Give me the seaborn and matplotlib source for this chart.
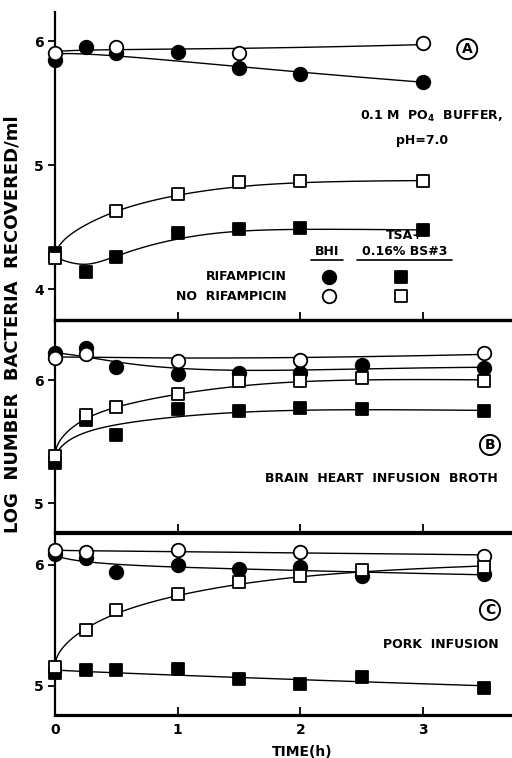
import numpy as np
import pandas as pd
import matplotlib
matplotlib.use("Agg")
import matplotlib.pyplot as plt
import seaborn as sns

# ---------------- data ----------------
# Panel A: 0.1 M PO4 buffer
a_t_bhi_rif = [0, 0.25, 0.5, 1, 1.5, 2, 3]
a_y_bhi_rif = [5.85, 5.955, 5.90, 5.915, 5.78, 5.73, 5.67]
a_t_bhi_norif = [0, 0.5, 1.5, 3]
a_y_bhi_norif = [5.905, 5.955, 5.90, 5.985]
a_t_tsa_rif = [0, 0.25, 0.5, 1, 1.5, 2, 3]
a_y_tsa_rif = [4.29, 4.14, 4.26, 4.455, 4.48, 4.49, 4.475]
a_t_tsa_norif = [0, 0.5, 1, 1.5, 2, 3]
a_y_tsa_norif = [4.25, 4.63, 4.77, 4.86, 4.87, 4.87]

# Panel B: brain heart infusion broth
b_t_bhi_rif = [0, 0.25, 0.5, 1, 1.5, 2, 2.5, 3.5]
b_y_bhi_rif = [6.216, 6.257, 6.108, 6.049, 6.06, 6.06, 6.12, 6.095]
b_t_bhi_norif = [0, 0.25, 1, 2, 3.5]
b_y_bhi_norif = [6.176, 6.21, 6.157, 6.16, 6.22]
b_t_tsa_rif = [0, 0.25, 0.5, 1, 1.5, 2, 2.5, 3.5]
b_y_tsa_rif = [5.33, 5.676, 5.554, 5.762, 5.75, 5.77, 5.762, 5.75]
b_t_tsa_norif = [0, 0.25, 0.5, 1, 1.5, 2, 2.5, 3.5]
b_y_tsa_norif = [5.38, 5.716, 5.78, 5.886, 5.995, 5.99, 6.02, 5.995]

# Panel C: pork infusion
c_t_bhi_rif = [0, 0.25, 0.5, 1, 1.5, 2, 2.5, 3.5]
c_y_bhi_rif = [6.09, 6.055, 5.945, 6.0, 5.964, 5.986, 5.91, 5.926]
c_t_bhi_norif = [0, 0.25, 1, 2, 3.5]
c_y_bhi_norif = [6.124, 6.11, 6.124, 6.11, 6.074]
c_t_tsa_rif = [0, 0.25, 0.5, 1, 1.5, 2, 2.5, 3.5]
c_y_tsa_rif = [5.11, 5.13, 5.13, 5.14, 5.055, 5.02, 5.077, 4.98]
c_t_tsa_norif = [0, 0.25, 0.5, 1, 1.5, 2, 2.5, 3.5]
c_y_tsa_norif = [5.16, 5.46, 5.63, 5.76, 5.862, 5.91, 5.96, 5.986]

x_ticks = [0, 1, 2, 3]
x_tick_labels = ["0", "1", "2", "3"]
a_y_ticks = [4, 5, 6]
bc_y_ticks = [5, 6]

# ---------------- style ----------------
sns.set_style("ticks")
plt.rcParams['font.family'] = ['DejaVu Sans']
plt.rcParams['font.weight'] = 'bold'
plt.rcParams['mathtext.default'] = 'bf'
for k in ['text.color', 'axes.labelcolor', 'xtick.color', 'ytick.color', 'axes.edgecolor']:
    plt.rcParams[k] = 'black'

W, H = 512, 758
fig = plt.figure(figsize=(W / 100, H / 100), dpi=100)

def box(top, bottom, left=55):
    return [left / W, 1 - bottom / H, 1 - left / W, (bottom - top) / H]

axA = fig.add_axes(box(12, 320))
axB = fig.add_axes(box(320, 532))
axC = fig.add_axes(box(533, 715))

xmax = (W - 55) / 122.67

def smooth_curve(t, y, h):
    """Gaussian-kernel local linear smoother in sqrt(time) space."""
    s = np.sqrt(t)
    ts = np.linspace(0, t.max(), 300)
    ss = np.sqrt(ts)
    out = np.empty_like(ts)
    for i, s0 in enumerate(ss):
        w = np.exp(-0.5 * ((s - s0) / h) ** 2)
        X = np.column_stack([np.ones_like(s), s - s0])
        WX = X * w[:, None]
        beta = np.linalg.solve(X.T @ WX + 1e-9 * np.eye(2), WX.T @ y)
        out[i] = beta[0]
    return ts, out

def draw_series(ax, t, y, marker, filled, h):
    t = np.asarray(t, float)
    y = np.asarray(y, float)
    ts, ys = smooth_curve(t, y, h)
    sns.lineplot(x=ts, y=ys, ax=ax, color='black', lw=1.0, zorder=2, estimator=None, sort=False)
    size = 95 if marker == 'o' else 70
    sns.scatterplot(x=t, y=y, ax=ax, marker=marker, s=size,
                    color='black' if filled else 'white',
                    edgecolor='black', linewidth=1.3, zorder=4, clip_on=False)

panels = [
    (axA, [(a_t_bhi_rif, a_y_bhi_rif, 'o', True, 0.6),
           (a_t_bhi_norif, a_y_bhi_norif, 'o', False, 0.6),
           (a_t_tsa_rif, a_y_tsa_rif, 's', True, 0.25),
           (a_t_tsa_norif, a_y_tsa_norif, 's', False, 0.3)],
     (3.75, 6.234), a_y_ticks),
    (axB, [(b_t_bhi_rif, b_y_bhi_rif, 'o', True, 0.35),
           (b_t_bhi_norif, b_y_bhi_norif, 'o', False, 0.6),
           (b_t_tsa_rif, b_y_tsa_rif, 's', True, 0.35),
           (b_t_tsa_norif, b_y_tsa_norif, 's', False, 0.3)],
     (4.767, 6.487), bc_y_ticks),
    (axC, [(c_t_bhi_rif, c_y_bhi_rif, 'o', True, 0.45),
           (c_t_bhi_norif, c_y_bhi_norif, 'o', False, 0.8),
           (c_t_tsa_rif, c_y_tsa_rif, 's', True, 0.8),
           (c_t_tsa_norif, c_y_tsa_norif, 's', False, 0.3)],
     (4.76, 6.264), bc_y_ticks),
]

for ax, series, ylim, yticks in panels:
    for s in series:
        draw_series(ax, *s)
    ax.set_xlim(0, xmax)
    ax.set_ylim(*ylim)
    ax.set_yticks(yticks)
    ax.set_yticklabels([str(v) for v in yticks], fontsize=10, fontweight='bold')
    ax.set_xticks(x_ticks)
    if ax is axC:
        ax.set_xticklabels(x_tick_labels, fontsize=10, fontweight='bold')
    else:
        ax.set_xticklabels([])
    ax.tick_params(axis='y', direction='out', length=5, width=1.3, pad=3)
    ax.tick_params(axis='x', direction='in', length=6, width=1.3, pad=6)
    ax.spines['right'].set_visible(False)
    ax.spines['top'].set_visible(ax is not axA)
    ax.spines['top'].set_linewidth(2.3)
    ax.spines['bottom'].set_linewidth(2.3)
    ax.spines['left'].set_linewidth(1.6)
    ax.set_xlabel('')
    ax.set_ylabel('')
    ax.patch.set_alpha(0)

# ---------------- annotations ----------------
circ = dict(boxstyle='circle,pad=0.22', fc='white', ec='black', lw=1.4)
axA.text(3.36, 5.935, 'A', ha='center', va='center', fontsize=10, bbox=circ)
axB.text(3.546, 5.473, 'B', ha='center', va='center', fontsize=10, bbox=circ)
axC.text(3.546, 5.628, 'C', ha='center', va='center', fontsize=10, bbox=circ)

axA.text(3.07, 5.395, r'0.1 M  PO$_4$  BUFFER,', ha='center', va='center', fontsize=9)
axA.text(2.99, 5.20, 'pH=7.0', ha='center', va='center', fontsize=9)
axB.text(2.66, 5.205, 'BRAIN  HEART  INFUSION  BROTH', ha='center', va='center', fontsize=9)
axC.text(3.147, 5.339, 'PORK  INFUSION', ha='center', va='center', fontsize=9)

# legend block in panel A
axA.text(2.22, 4.30, 'BHI', ha='center', va='center', fontsize=9)
axA.text(2.85, 4.43, 'TSA+', ha='center', va='center', fontsize=9)
axA.text(2.85, 4.30, '0.16% BS#3', ha='center', va='center', fontsize=9)
axA.plot([2.09, 2.35], [4.235, 4.235], color='black', lw=1.2)
axA.plot([2.46, 3.24], [4.235, 4.235], color='black', lw=1.2)
axA.text(1.89, 4.097, 'RIFAMPICIN', ha='right', va='center', fontsize=9)
axA.text(1.89, 3.94, 'NO  RIFAMPICIN', ha='right', va='center', fontsize=9)
axA.scatter([2.234], [4.097], marker='o', s=95, c='black', edgecolors='black', lw=1.3)
axA.scatter([2.82], [4.097], marker='s', s=70, c='black', edgecolors='black', lw=1.3)
axA.scatter([2.234], [3.94], marker='o', s=95, c='white', edgecolors='black', lw=1.3)
axA.scatter([2.82], [3.94], marker='s', s=70, c='white', edgecolors='black', lw=1.3)

fig.text(13 / W, 1 - 324 / H, 'LOG  NUMBER  BACTERIA  RECOVERED/ml', rotation=90,
         ha='center', va='center', fontsize=13, fontweight='bold')
fig.text(302 / W, 1 - 752 / H, 'TIME(h)', ha='center', va='center', fontsize=10, fontweight='bold')

fig.savefig('out.png', dpi=100)
